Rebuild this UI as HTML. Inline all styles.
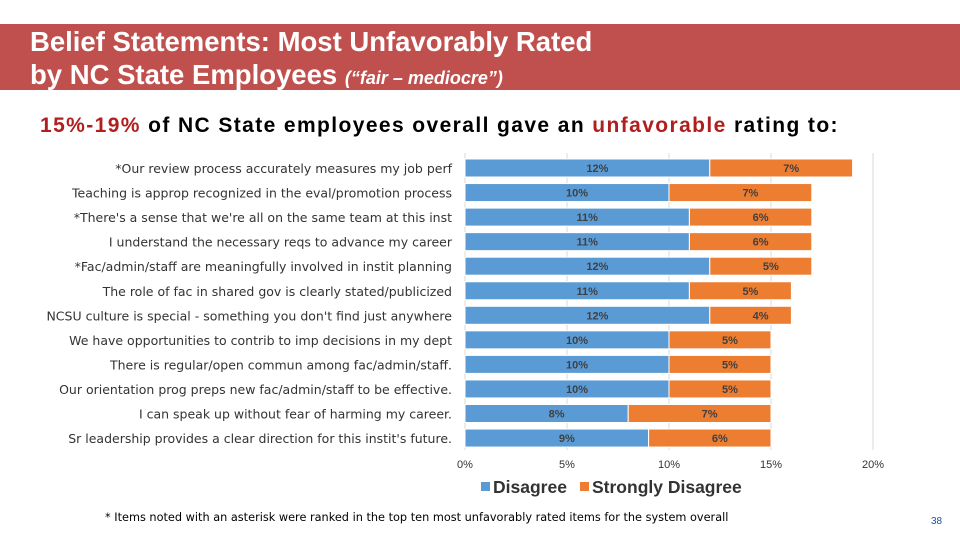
<!DOCTYPE html>
<html><head><meta charset="utf-8"><style>
body{margin:0;width:960px;height:540px;background:#fff;position:relative;overflow:hidden;font-family:"Liberation Sans",sans-serif}
#title{position:absolute;left:0;top:24px;width:960px;height:66px;background:#c0504d}
#title div{position:absolute;left:30px;color:#fff;font-weight:bold;font-size:27.5px;line-height:33px;white-space:nowrap}
#sub{position:absolute;left:40px;top:114px;font-size:21px;font-weight:bold;letter-spacing:1.4px;color:#000;white-space:nowrap}
.red{color:#b01e1e}
</style></head><body>
<div id="title"><div style="top:1px">Belief Statements: Most Unfavorably Rated<br>by NC State Employees <i style="font-size:18px">(“fair – mediocre”)</i></div></div>
<div id="sub"><span class="red">15%-19%</span> of NC State employees overall gave an <span class="red">unfavorable</span> rating to:</div>
<svg id="chart" width="960" height="540" style="position:absolute;left:0;top:0"></svg>
<div style="position:absolute;left:105px;top:511px;font-size:11.3px;white-space:nowrap;font-family:'DejaVu Sans',sans-serif">* Items noted with an asterisk were ranked in the top ten most unfavorably rated items for the system overall</div>
<div style="position:absolute;left:931px;top:516px;font-size:10px;color:#1f4e9c">38</div>
<script>
const categories=["*Our review process accurately measures my job perf","Teaching is approp recognized in the eval/promotion process","*There's a sense that we're all on the same team at this inst","I understand the necessary reqs to advance my career","*Fac/admin/staff are meaningfully involved in instit planning","The role of fac in shared gov is clearly stated/publicized","NCSU culture is special - something you don't find just anywhere","We have opportunities to contrib to imp decisions in my dept","There is regular/open commun among fac/admin/staff.","Our orientation prog preps new fac/admin/staff to be effective.","I can speak up without fear of harming my career.","Sr leadership provides a clear direction for this instit's future."];
const disagree=[12,10,11,11,12,11,12,10,10,10,8,9];
const strongly=[7,7,6,6,5,5,4,5,5,5,7,6];
const ticks=[0,5,10,15,20];
const NS="http://www.w3.org/2000/svg";
const svg=document.getElementById('chart');
const x0=465,x1=873,xmax=20;
const X=v=>x0+(x1-x0)*v/xmax;
const rowTop=i=>159+i*24.55;
const bh=18;
function mk(t,a){const e=document.createElementNS(NS,t);for(const k in a)e.setAttribute(k,a[k]);svg.appendChild(e);return e;}
ticks.forEach(t=>{
 const g=mk('line',{x1:X(t),x2:X(t),y1:153,y2:450,stroke:'#d9d9d9','stroke-width':1});
 
 
 const l=mk('text',{x:X(t),y:468,'text-anchor':'middle','font-size':11,fill:'#333','font-family':'Liberation Sans'});
 l.textContent=t+'%';
 
 
});
categories.forEach((c,i)=>{
 const y=rowTop(i);
 const lb=mk('text',{x:452,y:y+14,'text-anchor':'end','font-size':12.5,fill:'#333','font-family':'DejaVu Sans'});
 lb.textContent=c;
 
 
 const b1=mk('rect',{x:X(0),y:y,width:X(disagree[i])-X(0),height:bh,fill:'#5b9bd5',stroke:'#fff','stroke-width':1});
 
 
 const b2=mk('rect',{x:X(disagree[i]),y:y,width:X(disagree[i]+strongly[i])-X(disagree[i]),height:bh,fill:'#ed7d31',stroke:'#fff','stroke-width':1});
 
 
 const t1=mk('text',{x:(X(0)+X(disagree[i]))/2+10,y:y+13,'text-anchor':'middle','font-size':11,'font-weight':'bold',fill:'#404040','font-family':'Liberation Sans'});
 t1.textContent=disagree[i]+'%';
 
 
 const t2=mk('text',{x:(X(disagree[i])+X(disagree[i]+strongly[i]))/2+10,y:y+13,'text-anchor':'middle','font-size':11,'font-weight':'bold',fill:'#404040','font-family':'Liberation Sans'});
 t2.textContent=strongly[i]+'%';
 
 
});
const lg=[['#5b9bd5','Disagree',481],['#ed7d31','Strongly Disagree',580]];
lg.forEach(l=>{
 const r=mk('rect',{x:l[2],y:482,width:9,height:9,fill:l[0]});
 
 
 const t=mk('text',{x:l[2]+12,y:493,'font-size':17.5,'font-weight':'bold',fill:'#333','font-family':'Liberation Sans'});
 t.textContent=l[1];
 
 
});
</script>
</body></html>
